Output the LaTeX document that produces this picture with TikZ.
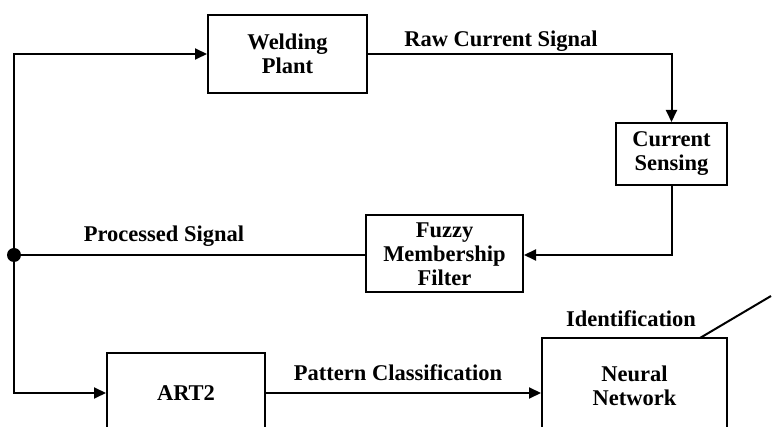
\documentclass[tikz,border=0pt]{standalone}
\usepackage{fontspec}
\setmainfont{Liberation Serif}
\usetikzlibrary{arrows.meta}
\begin{document}
\begin{tikzpicture}[x=1pt,y=-1pt,
  box/.style={draw,line width=2pt,align=center,inner sep=0pt},
  lbl/.style={inner sep=0pt},
  conn/.style={line width=2pt},
  arr/.style={conn,-{Triangle[length=12pt,width=11pt]}},
  junction/.style={circle,fill=black,inner sep=0pt,minimum size=14pt},
  every node/.style={font=\fontsize{22.5}{24}\selectfont\bfseries}]
\useasboundingbox (0,0) rectangle (772,427);
\node[box,minimum width=159pt,minimum height=78pt] (wp) at (287.5,54) {Welding\\Plant};
\node[box,minimum width=111pt,minimum height=62pt] (cs) at (671.5,154) {Current\\Sensing};
\node[box,minimum width=157pt,minimum height=77pt] (fz) at (444.5,254) {Fuzzy\\Membership\\Filter};
\node[box,minimum width=158pt,minimum height=80pt] (art) at (186,393) {ART2};
\node[box,minimum width=185pt,minimum height=96pt] (nn) at (634.5,386) {Neural\\Network};
\node[junction] (dot) at (14,255) {};
\coordinate (idend) at (771,296);
\coordinate (idstart) at (700,338);
\node[lbl] (raw) at (501,41) {Raw Current Signal};
\node[lbl] (proc) at (164,236) {Processed Signal};
\node[lbl] (pat) at (398,373) {Pattern Classification};
\node[lbl] (ident) at (631,319) {Identification};
\draw[arr] (wp.east) -| (cs.north);
\draw[arr] (cs.south) |- (fz.east |- dot);
\draw[conn] (fz.west |- dot) -- (dot.center);
\draw[arr] (dot.center) |- (wp.west);
\draw[arr] (dot.center) |- (art.west);
\draw[arr] (art.east) -- (art.east -| nn.west);
\draw[conn] (idstart) -- (idend);
\end{tikzpicture}
\end{document}
